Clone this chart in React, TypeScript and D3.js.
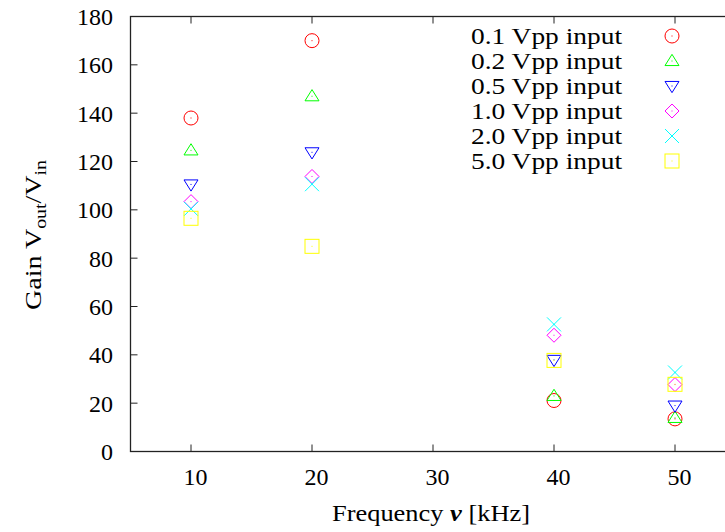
import React from "react";
import * as d3 from "d3";

const frequencies = [10, 20, 40, 50];
const seriesNames = ["0.1 Vpp input", "0.2 Vpp input", "0.5 Vpp input", "1.0 Vpp input", "2.0 Vpp input", "5.0 Vpp input"];
const gain01 = [138, 170, 21.1, 13.5];
const gain02 = [124.6, 147, 23, 13.9];
const gain05 = [110.5, 123.8, 37.9, 19];
const gain10 = [103.4, 113.8, 48.1, 27.7];
const gain20 = [100.4, 110.6, 52.6, 32.7];
const gain50 = [96.5, 84.9, 37.7, 27.8];
const seriesColors = ["#ff0000", "#00ff00", "#0000ff", "#ff00ff", "#00ffff", "#ffff00"];
const seriesShapes = ["circle", "triangle", "invtriangle", "diamond", "cross", "square"];
const xTicks = [10, 20, 30, 40, 50];
const yTicks = [0, 20, 40, 60, 80, 100, 120, 140, 160, 180];

const allSeries = [gain01, gain02, gain05, gain10, gain20, gain50];

const W = 725;
const H = 532;
const fs: React.CSSProperties = { fontFamily: '"Liberation Serif"' };

function Marker({ shape, color, x, y }: { shape: string; color: string; x: number; y: number }) {
  const s = 7;
  let el: React.ReactNode = null;
  const common = { fill: "none", stroke: color, strokeWidth: 1 };
  if (shape === "circle") el = <circle cx={x} cy={y} r={s} {...common} />;
  else if (shape === "triangle")
    el = <path d={`M${x},${y - s * 0.95}L${x + s},${y + s * 0.65}L${x - s},${y + s * 0.65}Z`} {...common} />;
  else if (shape === "invtriangle")
    el = <path d={`M${x},${y + s * 0.95}L${x + s},${y - s * 0.65}L${x - s},${y - s * 0.65}Z`} {...common} />;
  else if (shape === "diamond")
    el = <path d={`M${x},${y - s}L${x + s},${y}L${x},${y + s}L${x - s},${y}Z`} {...common} />;
  else if (shape === "cross")
    el = <path d={`M${x - s},${y - s}L${x + s},${y + s}M${x - s},${y + s}L${x + s},${y - s}`} {...common} />;
  else if (shape === "square")
    el = <rect x={x - s} y={y - s} width={2 * s} height={2 * s} {...common} />;
  return (
    <g>
      {el}
      <rect x={x - 0.5} y={y - 0.5} width={1} height={1} fill={color} />
    </g>
  );
}

export default function App() {
  const left = 130.5;
  const top = 16.5;
  const bottom = 451.5;
  const right = 735.5;
  const x = d3.scaleLinear().domain([5, 55]).range([left, right]);
  const y = d3.scaleLinear().domain([0, 180]).range([bottom, top]);
  const tick = 7;
  const axisColor = "#222";

  return (
    <svg width={W} height={H} style={{ position: "absolute", left: 0, top: 0, background: "#fff" }}>
      <rect x={0} y={0} width={W} height={H} fill="#fff" />
      {yTicks.map((t) => (
        <g key={"y" + t}>
          <line x1={left} x2={left + tick} y1={y(t)} y2={y(t)} stroke={axisColor} strokeWidth={1} />
          <line x1={right} x2={right - tick} y1={y(t)} y2={y(t)} stroke={axisColor} strokeWidth={1} />
          <text x={113} y={y(t)} dy="0.35em" textAnchor="end" fontSize={24} fill="#000" style={fs}>
            {t}
          </text>
        </g>
      ))}
      {xTicks.map((t) => (
        <g key={"x" + t}>
          <line x1={x(t)} x2={x(t)} y1={bottom} y2={bottom - tick} stroke={axisColor} strokeWidth={1} />
          <line x1={x(t)} x2={x(t)} y1={top} y2={top + tick} stroke={axisColor} strokeWidth={1} />
          <text x={x(t) + 4.5} y={485} textAnchor="middle" fontSize={24} fill="#000" style={fs}>
            {t}
          </text>
        </g>
      ))}
      <rect x={left} y={top} width={right - left} height={bottom - top} fill="none" stroke={axisColor} strokeWidth={1.3} />

      {allSeries.map((vals, si) =>
        vals.map((v, i) => (
          <Marker key={si + "-" + i} shape={seriesShapes[si]} color={seriesColors[si]} x={x(frequencies[i])} y={y(v)} />
        ))
      )}

      {seriesNames.map((n, si) => {
        const ly = 36 + si * 25;
        return (
          <g key={"l" + si}>
            <text x={471} y={ly} dy="0.35em" textAnchor="start" fontSize={24} fill="#000" style={fs}
              textLength={151} lengthAdjust="spacingAndGlyphs">
              {n}
            </text>
            <Marker shape={seriesShapes[si]} color={seriesColors[si]} x={672} y={ly} />
          </g>
        );
      })}

      <text x={332} y={521} textAnchor="start" fontSize={24} fill="#000" style={fs} textLength={198} lengthAdjust="spacingAndGlyphs">
        Frequency <tspan fontStyle="italic" fontWeight="bold">ν</tspan> [kHz]
      </text>
      <text transform="translate(41,310) rotate(-90)" textAnchor="start" fontSize={24} fill="#000" style={fs}
        textLength={150} lengthAdjust="spacingAndGlyphs">
        Gain V<tspan baselineShift="-5" fontSize={17}>out</tspan>/V<tspan baselineShift="-5" fontSize={17}>in</tspan>
      </text>
    </svg>
  );
}
